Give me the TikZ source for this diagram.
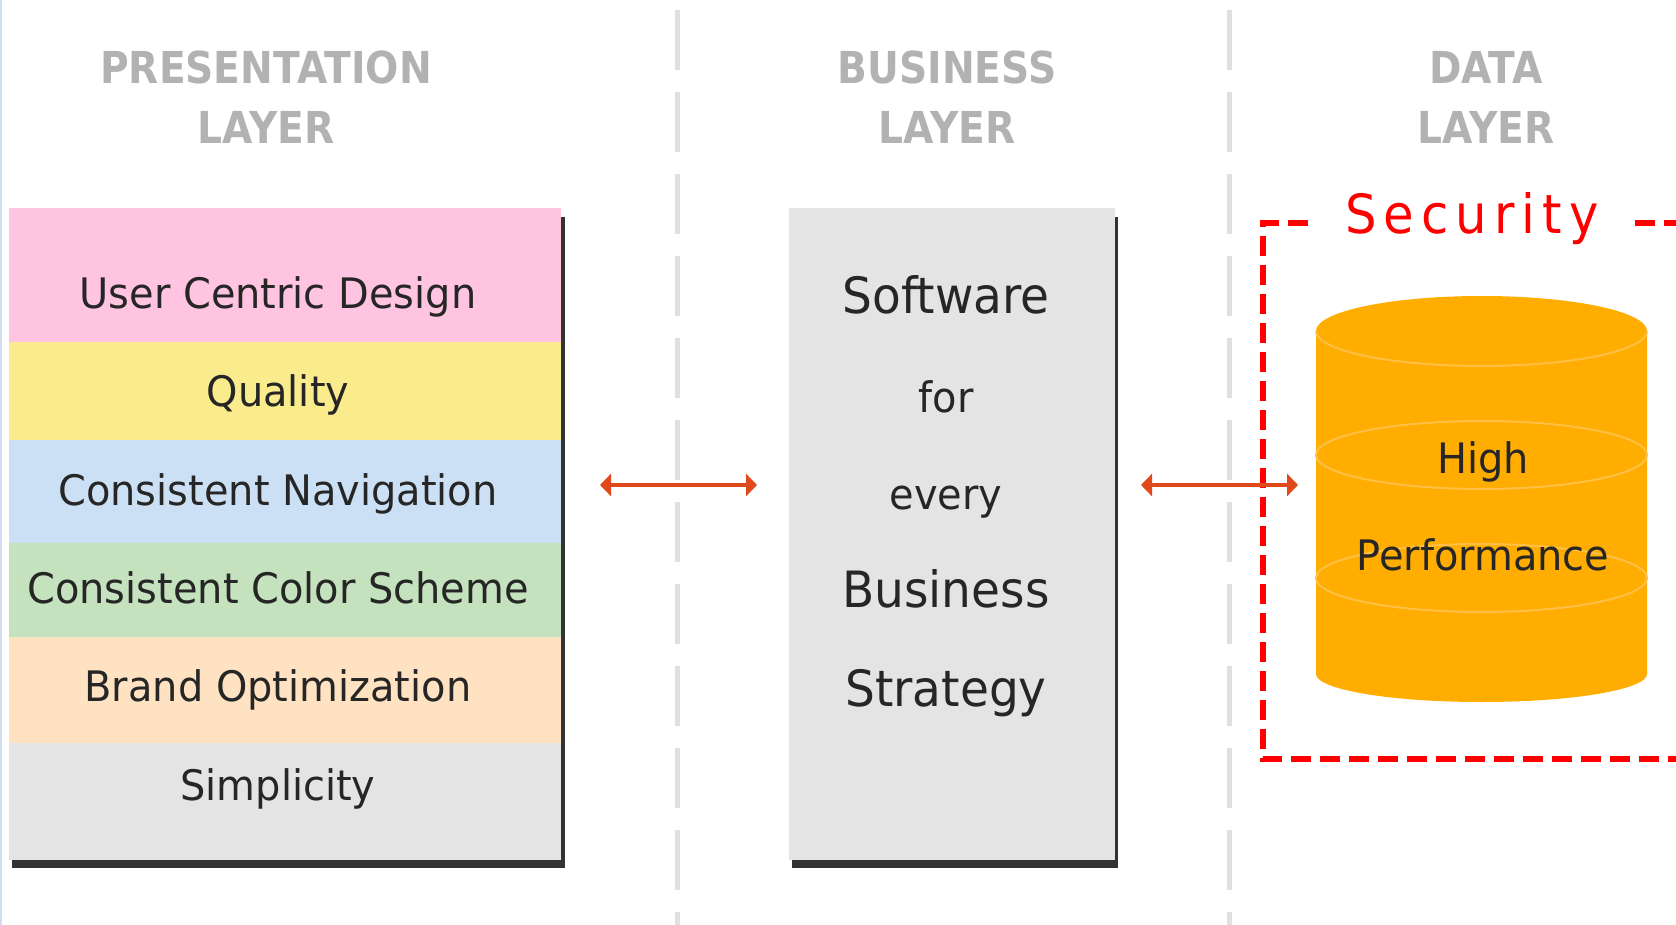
\documentclass[tikz,border=0pt]{standalone}
\usepackage{fontspec}
\usepackage{xcolor}
\usetikzlibrary{arrows.meta}
\setmainfont{DejaVu Sans}
\newfontfamily\layerfont[FakeStretch=0.89]{DejaVu Sans Bold}
\newfontfamily\bodyfont[FakeStretch=0.95]{DejaVu Sans}
\newfontfamily\bigfont[FakeStretch=0.94]{DejaVu Sans}
\newfontfamily\securefont[LetterSpace=13,FakeStretch=0.92]{DejaVu Sans}
\definecolor{bandpink}{HTML}{FFC4DF}
\definecolor{bandyellow}{HTML}{FAEB8C}
\definecolor{bandblue}{HTML}{CBE0F4}
\definecolor{bandgreen}{HTML}{C3E2BD}
\definecolor{bandpeach}{HTML}{FFE2C1}
\definecolor{bandgrey}{HTML}{E4E4E4}
\definecolor{dbfill}{HTML}{FFAD00}
\definecolor{dbline}{HTML}{FFC045}
\definecolor{linkred}{HTML}{E0491C}
\definecolor{edgeblue}{HTML}{D0DCF2}
\tikzset{
    layer/.style={align=center, text=black!30, font=\layerfont\fontsize{44}{60}\selectfont},
    bandtext/.style={text=black!85, font=\bodyfont\fontsize{42}{42}\selectfont},
    bigtext/.style={text=black!85, font=\bigfont\fontsize{50}{50}\selectfont},
    divider/.style={black!12, line width=5pt, dash pattern=on 60pt off 22pt},
    biarrow/.style={linkred, line width=3.5pt, {Triangle[length=11pt,width=22pt]}-{Triangle[length=11pt,width=22pt]}},
    secure/.style={red, line width=6pt, dash pattern=on 20pt off 9pt},
    dbarc/.style={dbline, line width=2pt}
}
\begin{document}
\begin{tikzpicture}[x=1pt,y=-1pt]
    \useasboundingbox (0,0) rectangle (1676,925);
    \fill[edgeblue] (0,0) rectangle (2,925);
    % dividers
    \draw[divider] (677,10) -- (677,925);
    \draw[divider] (1229,10) -- (1229,925);
    % headings
    \node[layer] (presentation) at (266,97) {PRESENTATION\\LAYER};
    \node[layer] (business) at (947,97) {BUSINESS\\LAYER};
    \node[layer] (data) at (1486,97) {DATA\\LAYER};
    % left stack
    \fill[black!80] (12,860) rectangle (565,868);
    \fill[black!80] (561,217) rectangle (565,868);
    \foreach \name/\col/\ytop/\ybot in {user/bandpink/208/342, quality/bandyellow/342/440, nav/bandblue/440/543, scheme/bandgreen/543/637, brand/bandpeach/637/743, simple/bandgrey/743/860}
        \fill[\col] (9,\ytop) rectangle (561,\ybot);
    \node[bandtext] (usertext) at (278,297) {User Centric Design};
    \node[bandtext] (qualitytext) at (278,395) {Quality};
    \node[bandtext] (navtext) at (278,494) {Consistent Navigation};
    \node[bandtext] (schemetext) at (278,588) {Consistent Color Scheme};
    \node[bandtext] (brandtext) at (278,690) {Brand Optimization};
    \node[bandtext] (simpletext) at (278,789) {Simplicity};
    % middle box
    \fill[black!80] (792,860) rectangle (1118,868);
    \fill[black!80] (1115,217) rectangle (1118,868);
    \fill[bandgrey] (789,208) rectangle (1115,860);
    \node[bigtext] (software) at (946,295) {Software};
    \node[bandtext] (for) at (946,397) {for};
    \node[bandtext] (every) at (946,502) {every};
    \node[bigtext] (bizword) at (946,589) {Business};
    \node[bigtext] (strategy) at (946,693) {Strategy};
    % security frame
    \draw[secure] (1308,223) -- (1263,223) -- (1263,759) -- (1676,759);
    \draw[secure] (1635,223) -- (1676,223);
    \node[text=red, font=\securefont\fontsize{54}{54}\selectfont] (security) at (1472,219) {Security};
    % database
    \fill[dbfill] (1316,331) arc[start angle=180, end angle=360, x radius=165.5, y radius=35] -- (1647,674) arc[start angle=0, end angle=180, x radius=165.5, y radius=28] -- cycle;
    \draw[dbarc] (1316,331) arc[start angle=180, end angle=360, x radius=165.5, y radius=-35];
    \foreach \yc in {455,578}
        \draw[dbarc] (1481.5,\yc) ellipse [x radius=165.5, y radius=34];
    \node[bandtext] (high) at (1483,462) {High};
    \node[bandtext] (performance) at (1483,555) {Performance};
    % links
    \coordinate (linkaw) at (600,485);
    \coordinate (linkae) at (757,485);
    \coordinate (linkbw) at (1141,485);
    \coordinate (linkbe) at (1298,485);
    \draw[biarrow] (linkaw) -- (linkae);
    \draw[biarrow] (linkbw) -- (linkbe);
\end{tikzpicture}
\end{document}
